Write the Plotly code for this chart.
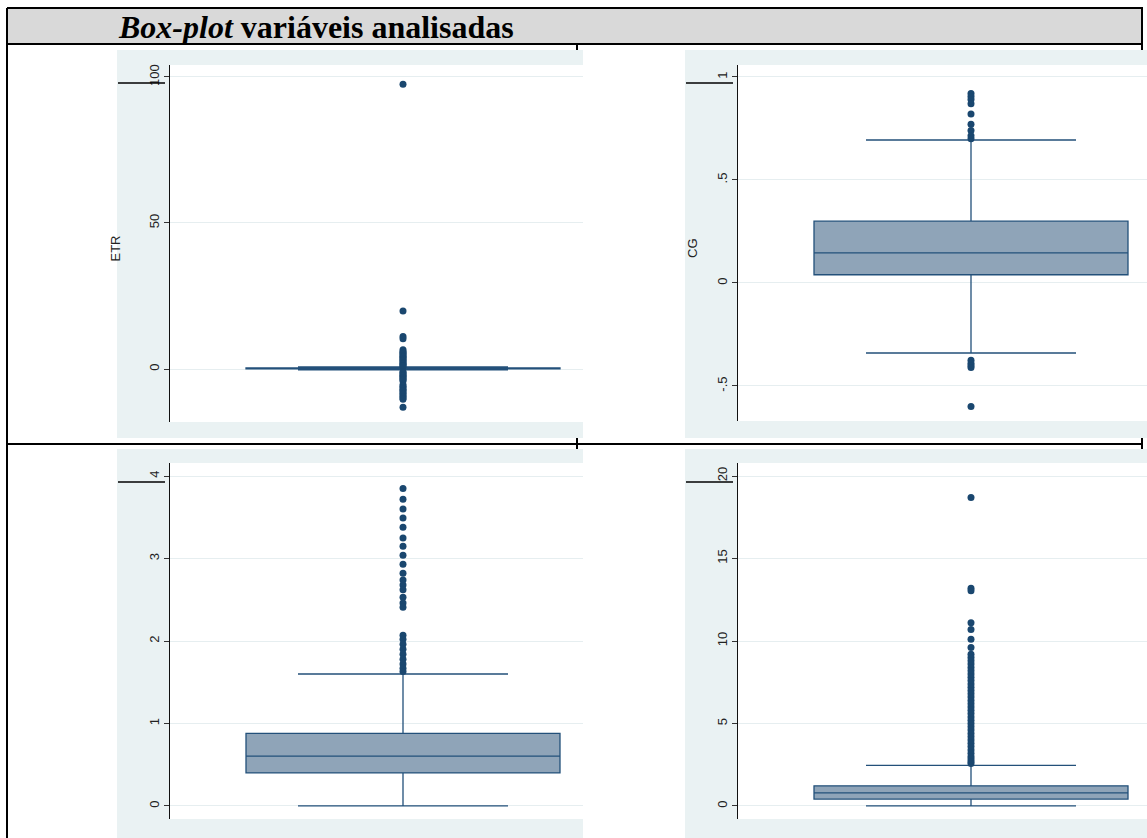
import plotly.graph_objects as go

W, H = 1147, 838

# ---------------- data ----------------
etr_stats = dict(q1=0.05, median=0.22, q3=0.36, lowerfence=-0.30, upperfence=0.75)
etr_outliers = [97.5, 19.9, 11.1, 10.4, 6.6, 6.0, 5.6, 5.2, 4.8, 4.4, 4.0, 3.6, 3.2,
                2.8, 2.4, 2.0, 1.6, 1.2, 0.9, -0.9, -1.3, -1.7, -2.1, -2.5, -2.9,
                -3.3, -3.7, -4.1, -5.4, -5.9, -6.4, -6.9, -7.4, -7.9, -8.4, -8.9,
                -9.4, -9.9, -10.4, -13.1]

cg_stats = dict(q1=0.04, median=0.146, q3=0.30, lowerfence=-0.34, upperfence=0.694)
cg_outliers = [0.92, 0.905, 0.89, 0.87, 0.82, 0.77, 0.74, 0.715, 0.70,
               -0.375, -0.39, -0.40, -0.41, -0.60]

p3_stats = dict(q1=0.40, median=0.605, q3=0.88, lowerfence=0.0, upperfence=1.60)
p3_outliers = [3.85, 3.72, 3.60, 3.49, 3.38, 3.25, 3.15, 3.04, 2.93, 2.82, 2.74,
               2.68, 2.62, 2.53, 2.46, 2.41, 2.07, 2.02, 1.96, 1.90, 1.84, 1.78,
               1.72, 1.67, 1.63]

p4_stats = dict(q1=0.42, median=0.79, q3=1.22, lowerfence=0.0, upperfence=2.46)
p4_outliers = [18.7, 13.2, 13.05, 11.1, 10.7, 10.1, 9.6, 9.2, 9.0, 8.8, 8.6, 8.4,
               8.2, 8.0, 7.8, 7.6, 7.4, 7.2, 7.0, 6.8, 6.6, 6.4, 6.2, 6.0, 5.8,
               5.6, 5.4, 5.2, 5.0, 4.8, 4.6, 4.4, 4.2, 4.0, 3.8, 3.6, 3.4, 3.2,
               3.0, 2.85, 2.7, 2.58]

etr_ticks = [0, 50, 100]
etr_ticktext = ["0", "50", "100"]
cg_ticks = [-0.5, 0, 0.5, 1]
cg_ticktext = ["-.5", "0", ".5", "1"]
p3_ticks = [0, 1, 2, 3, 4]
p3_ticktext = ["0", "1", "2", "3", "4"]
p4_ticks = [0, 5, 10, 15, 20]
p4_ticktext = ["0", "5", "10", "15", "20"]

axis_titles = ["ETR", "CG", "", ""]
header_text = "<b><i>Box-plot</i> variáveis analisadas</b>"

# ---------------- styling ----------------
NAVY = "#1a476f"
BOX_FILL = "#8fa4b8"
BOX_LINE = "#23507a"
PANEL_BG = "#eaf2f3"
GRID = "#e6eef0"


def px(x):
    return x / W


def py(y):
    return 1 - y / H


# panel geometry in pixels: (bg_x0, bg_y0, bg_x1, bg_y1, plot_x0, plot_y0, plot_x1, plot_y1, center_x)
panels = [
    (117, 50, 583, 438, 170, 65, 583, 422, 403),
    (685, 50, 1147, 438, 738, 65, 1147, 421, 971),
    (117, 449, 583, 838, 170, 463, 583, 819, 403),
    (685, 449, 1147, 838, 738, 463, 1147, 819, 971),
]
title_x = [115, 693, 0, 0]
yranges = [[-18.15, 104.1], [-0.670, 1.058], [-0.158, 4.158], [-0.79, 20.79]]
stats_list = [etr_stats, cg_stats, p3_stats, p4_stats]
outliers_list = [etr_outliers, cg_outliers, p3_outliers, p4_outliers]
ticks_list = [(etr_ticks, etr_ticktext), (cg_ticks, cg_ticktext),
              (p3_ticks, p3_ticktext), (p4_ticks, p4_ticktext)]

fig = go.Figure()
layout = dict(
    width=W, height=H, autosize=False,
    margin=dict(l=0, r=0, t=0, b=0, pad=0),
    paper_bgcolor="white", plot_bgcolor="rgba(0,0,0,0)",
    showlegend=False,
)

shapes = []
annotations = []

# ---- table lines (drawn first, panels cover most of them) ----
LINE = dict(color="black", width=2)
table_lines = [
    (7, 8, 1143, 8), (7, 44, 1143, 44), (7, 444, 1143, 444),
    (7, 8, 7, 838), (1142, 8, 1142, 838), (577, 44, 577, 838),
]
# header background
shapes.append(dict(type="rect", xref="paper", yref="paper", layer="below",
                   x0=px(7), x1=px(1142), y0=py(44), y1=py(8),
                   fillcolor="#d9d9d9", line=dict(width=0)))
for (x0, y0, x1, y1) in table_lines:
    shapes.append(dict(type="line", xref="paper", yref="paper", layer="below",
                       x0=px(x0), y0=py(y0), x1=px(x1), y1=py(y1), line=LINE))

for i, (bx0, by0, bx1, by1, ax0, ay0, ax1, ay1, cx) in enumerate(panels):
    n = "" if i == 0 else str(i + 1)
    # panel background and white plot region
    shapes.append(dict(type="rect", xref="paper", yref="paper", layer="below",
                       x0=px(bx0), x1=px(bx1), y0=py(by1), y1=py(by0),
                       fillcolor=PANEL_BG, line=dict(width=0)))
    shapes.append(dict(type="rect", xref="paper", yref="paper", layer="below",
                       x0=px(ax0), x1=px(ax1), y0=py(ay1), y1=py(ay0),
                       fillcolor="white", line=dict(width=0)))
    scale = 2 * (cx - ax0)  # pixels per x unit, range [-0.5, ...]
    xr = [-0.5, (ax1 - cx) / scale]
    tv, tt = ticks_list[i]
    layout["xaxis" + n] = dict(domain=[px(ax0), px(ax1)], range=xr, visible=False,
                               anchor="y" + n, fixedrange=True)
    layout["yaxis" + n] = dict(
        domain=[py(ay1), py(ay0)], range=yranges[i], anchor="x" + n,
        showline=True, linecolor="#111111", linewidth=1,
        ticks="outside", ticklen=5, tickcolor="#333333", tickwidth=1,
        tickvals=tv, ticktext=tt, tickangle=-90,
        tickfont=dict(family="Liberation Sans, Arial", size=13, color="#222222"),
        showgrid=True, gridcolor=GRID, gridwidth=1, zeroline=False,
        fixedrange=True,
    )
    st = stats_list[i]
    fig.add_trace(go.Box(
        x=[0], q1=[st["q1"]], median=[st["median"]], q3=[st["q3"]],
        lowerfence=[st["lowerfence"]], upperfence=[st["upperfence"]],
        width=314 / scale, whiskerwidth=210 / 314,
        fillcolor=BOX_FILL, line=dict(color=BOX_LINE, width=1.3),
        boxpoints=False, xaxis="x" + n, yaxis="y" + n, hoverinfo="skip",
    ))
    out = outliers_list[i]
    fig.add_trace(go.Scatter(
        x=[0] * len(out), y=out, mode="markers",
        marker=dict(color=NAVY, size=7, line=dict(width=0)),
        xaxis="x" + n, yaxis="y" + n, hoverinfo="skip",
    ))
    if axis_titles[i]:
        annotations.append(dict(
            text=axis_titles[i], xref="paper", yref="paper",
            x=px(title_x[i]), y=py((ay0 + ay1) / 2 + 5), xanchor="center", yanchor="middle",
            textangle=-90, showarrow=False,
            font=dict(family="Liberation Sans, Arial", size=13, color="#222222"),
        ))
    # short black artifact lines at the panel's top-left
    ly = 83 if i < 2 else 482
    shapes.append(dict(type="line", xref="paper", yref="paper", layer="above",
                       x0=px(bx0 + 1), x1=px(bx0 + 48), y0=py(ly), y1=py(ly),
                       line=dict(color="black", width=1.3)))

annotations.append(dict(
    text=header_text, xref="paper", yref="paper",
    x=px(116), y=py(27), xanchor="left", yanchor="middle", showarrow=False,
    font=dict(family="Liberation Serif, Times New Roman", size=32, color="black"),
))

layout["shapes"] = shapes
layout["annotations"] = annotations
fig.update_layout(**layout)
fig.write_html(
    "out.html",
    config={"displayModeBar": False},
    post_script="document.body.style.margin='0';document.body.style.overflow='hidden';",
)
